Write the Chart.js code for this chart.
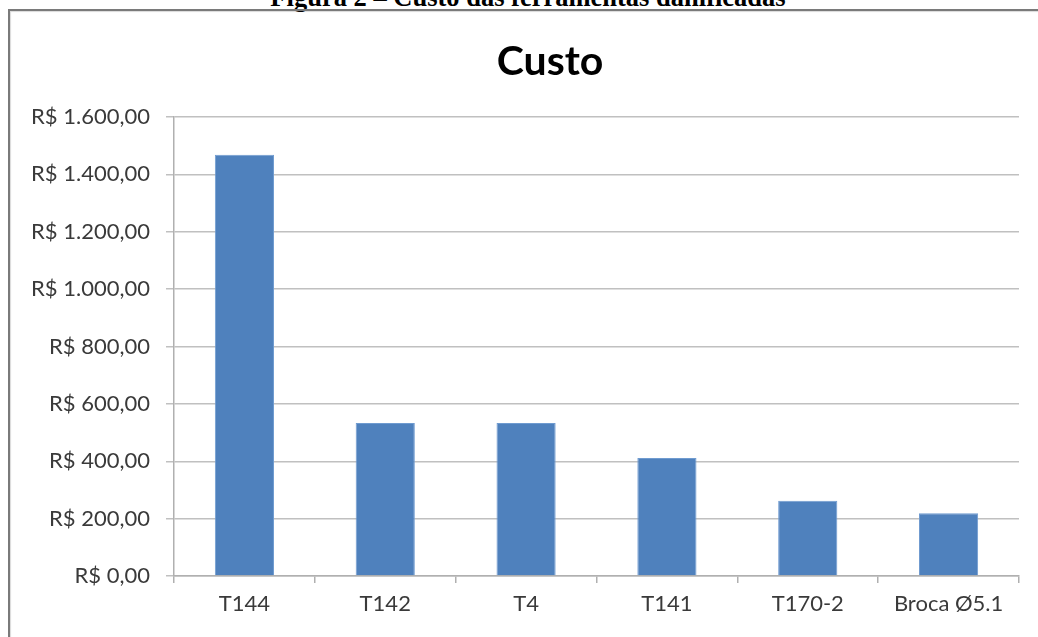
<!DOCTYPE html>
<html>
<head>
<meta charset="utf-8">
<script src="https://cdn.jsdelivr.net/npm/chart.js@4"></script>
<style>
  html, body { margin: 0; padding: 0; background: #fff; }
  body { width: 1038px; height: 637px; position: relative; overflow: hidden; }
  #caption {
    position: absolute; left: 0; width: 1056px; top: -17px; text-align: center;
    font-family: "Liberation Serif", "Times New Roman", serif; font-weight: bold; font-size: 26.5px;
    color: #000; white-space: nowrap; line-height: 28px;
  }
  #frame {
    position: absolute; left: 8px; top: 9px; width: 1100px; height: 700px;
    border-left: 2px solid #7a7a7a; border-top: 2px solid #7a7a7a;
    box-shadow: inset 1px 1px 1px rgba(0,0,0,0.15);
  }
  #title {
    position: absolute; left: 450px; width: 200px; top: 36px; text-align: center;
    font-family: Lato, "Open Sans", sans-serif; font-weight: bold; font-size: 41px;
    line-height: 48px; color: #000;
  }
  #c { position: absolute; left: 0; top: 0; }
</style>
</head>
<body>
<div id="caption">Figura 2 – Custo das ferramentas danificadas</div>
<div id="frame"></div>
<canvas id="c" width="1038" height="637"></canvas>
<div id="title"></div>
<script>
const categories = ["T144", "T142", "T4", "T141", "T170-2", "Broca Ø5.1"];
const costValues = [1468, 533, 533, 411, 262, 219];
const yTicks = [0, 200, 400, 600, 800, 1000, 1200, 1400, 1600];
const chartTitle = "Custo";

document.getElementById("title").textContent = chartTitle;

function fmtBRL(v) {
  const intPart = Math.round(v).toString().replace(/\B(?=(\d{3})+(?!\d))/g, ".");
  return "R$ " + intPart + ",00";
}

const tickFont = { family: "Lato, 'Open Sans', sans-serif", size: 22 };

new Chart(document.getElementById("c"), {
  type: "bar",
  data: {
    labels: categories,
    datasets: [{
      label: chartTitle,
      data: costValues,
      backgroundColor: "#4F81BD",
      borderColor: "#6f9bd0",
      borderWidth: 1,
      barPercentage: 0.42,
      categoryPercentage: 1.0
    }]
  },
  options: {
    responsive: false,
    animation: false,
    layout: { padding: { left: 0, right: 19, top: 117, bottom: 0 } },
    plugins: {
      legend: { display: false },
      tooltip: { enabled: false },
      title: { display: false }
    },
    scales: {
      x: {
        offset: true,
        grid: { display: true, offset: true, drawOnChartArea: false, color: "#b0b0b0", lineWidth: 1.5, tickLength: 7 },
        border: { display: true, color: "#b0b0b0", width: 1.5 },
        ticks: { color: "#3a3a3a", font: tickFont, padding: 8, maxRotation: 0, autoSkip: false },
        afterFit: (s) => { s.height = 61; }
      },
      y: {
        min: 0, max: 1600,
        afterBuildTicks: (s) => { s.ticks = yTicks.map(v => ({ value: v })); },
        grid: { color: "#c0c0c0", lineWidth: 1.5, tickLength: 8 },
        border: { display: true, color: "#b0b0b0", width: 1.5 },
        ticks: { color: "#3a3a3a", font: tickFont, padding: 16, callback: (v) => fmtBRL(v) },
        afterFit: (s) => { s.width = 174; }
      }
    }
  }
});
</script>
</body>
</html>
